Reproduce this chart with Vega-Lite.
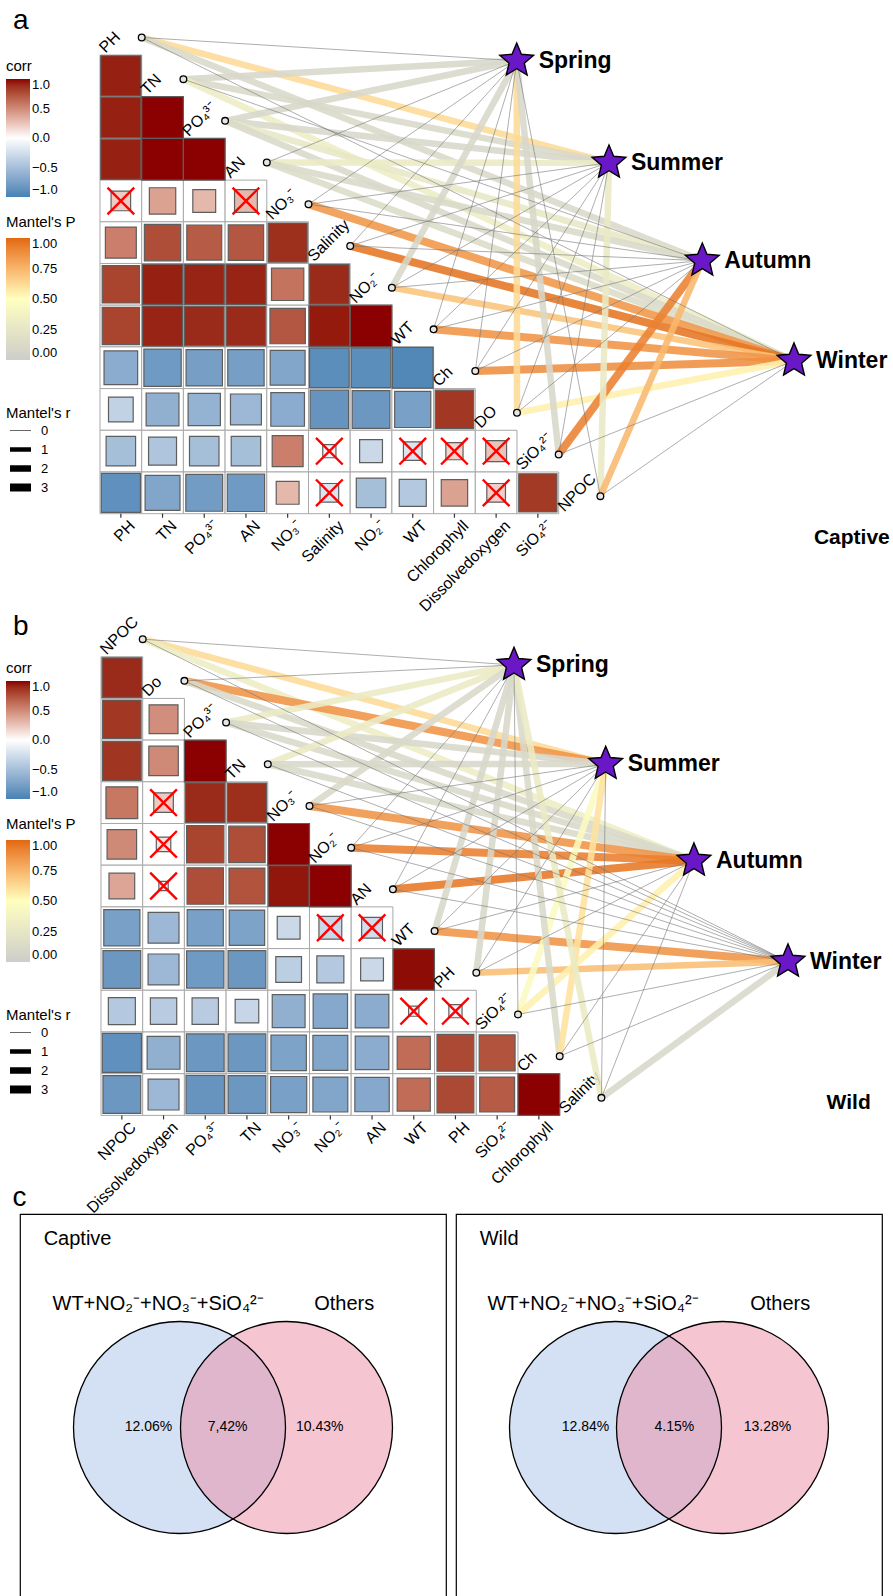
{
"$schema": "https://vega.github.io/schema/vega-lite/v6.json",
"padding": 0,
"spacing": 0,
"bounds": "flush",
"background": "white",
"config": {
  "view": {"stroke": null},
  "text": {"font": "Liberation Sans", "color": "#000000"},
  "legend": {"titleFontSize": 15, "titleFontWeight": "normal", "titleColor": "#000000", "labelFontSize": 13, "labelColor": "#000000", "labelFont": "Liberation Sans", "titleFont": "Liberation Sans", "gradientThickness": 24, "gradientStrokeWidth": 0, "titlePadding": 5, "labelOffset": 6, "padding": 0}
},
"resolve": {"scale": {"fill": "independent", "stroke": "independent", "strokeWidth": "independent", "size": "independent", "x": "independent", "y": "independent"}},
"datasets": {
  "cells_a": [
    {"row":0,"col":0,"r":0.93,"absr":0.93,"sig":"s"},
    {"row":1,"col":0,"r":0.93,"absr":0.93,"sig":"s"},{"row":1,"col":1,"r":1.0,"absr":1.0,"sig":"s"},
    {"row":2,"col":0,"r":0.93,"absr":0.93,"sig":"s"},{"row":2,"col":1,"r":1.0,"absr":1.0,"sig":"s"},{"row":2,"col":2,"r":1.0,"absr":1.0,"sig":"s"},
    {"row":3,"col":0,"r":0.22,"absr":0.22,"sig":"ns"},{"row":3,"col":1,"r":0.4,"absr":0.4,"sig":"s"},{"row":3,"col":2,"r":0.3,"absr":0.3,"sig":"s"},{"row":3,"col":3,"r":0.3,"absr":0.3,"sig":"ns"},
    {"row":4,"col":0,"r":0.55,"absr":0.55,"sig":"s"},{"row":4,"col":1,"r":0.76,"absr":0.76,"sig":"s"},{"row":4,"col":2,"r":0.7,"absr":0.7,"sig":"s"},{"row":4,"col":3,"r":0.72,"absr":0.72,"sig":"s"},{"row":4,"col":4,"r":0.88,"absr":0.88,"sig":"s"},
    {"row":5,"col":0,"r":0.8,"absr":0.8,"sig":"s"},{"row":5,"col":1,"r":0.93,"absr":0.93,"sig":"s"},{"row":5,"col":2,"r":0.92,"absr":0.92,"sig":"s"},{"row":5,"col":3,"r":0.92,"absr":0.92,"sig":"s"},{"row":5,"col":4,"r":0.6,"absr":0.6,"sig":"s"},{"row":5,"col":5,"r":0.9,"absr":0.9,"sig":"s"},
    {"row":6,"col":0,"r":0.8,"absr":0.8,"sig":"s"},{"row":6,"col":1,"r":0.92,"absr":0.92,"sig":"s"},{"row":6,"col":2,"r":0.9,"absr":0.9,"sig":"s"},{"row":6,"col":3,"r":0.9,"absr":0.9,"sig":"s"},{"row":6,"col":4,"r":0.72,"absr":0.72,"sig":"s"},{"row":6,"col":5,"r":0.95,"absr":0.95,"sig":"s"},{"row":6,"col":6,"r":1.0,"absr":1.0,"sig":"s"},
    {"row":7,"col":0,"r":-0.65,"absr":0.65,"sig":"s"},{"row":7,"col":1,"r":-0.8,"absr":0.8,"sig":"s"},{"row":7,"col":2,"r":-0.76,"absr":0.76,"sig":"s"},{"row":7,"col":3,"r":-0.76,"absr":0.76,"sig":"s"},{"row":7,"col":4,"r":-0.7,"absr":0.7,"sig":"s"},{"row":7,"col":5,"r":-0.9,"absr":0.9,"sig":"s"},{"row":7,"col":6,"r":-0.9,"absr":0.9,"sig":"s"},{"row":7,"col":7,"r":-0.95,"absr":0.95,"sig":"s"},
    {"row":8,"col":0,"r":-0.35,"absr":0.35,"sig":"s"},{"row":8,"col":1,"r":-0.62,"absr":0.62,"sig":"s"},{"row":8,"col":2,"r":-0.6,"absr":0.6,"sig":"s"},{"row":8,"col":3,"r":-0.55,"absr":0.55,"sig":"s"},{"row":8,"col":4,"r":-0.65,"absr":0.65,"sig":"s"},{"row":8,"col":5,"r":-0.85,"absr":0.85,"sig":"s"},{"row":8,"col":6,"r":-0.82,"absr":0.82,"sig":"s"},{"row":8,"col":7,"r":-0.75,"absr":0.75,"sig":"s"},{"row":8,"col":8,"r":0.85,"absr":0.85,"sig":"s"},
    {"row":9,"col":0,"r":-0.5,"absr":0.5,"sig":"s"},{"row":9,"col":1,"r":-0.45,"absr":0.45,"sig":"s"},{"row":9,"col":2,"r":-0.5,"absr":0.5,"sig":"s"},{"row":9,"col":3,"r":-0.5,"absr":0.5,"sig":"s"},{"row":9,"col":4,"r":0.55,"absr":0.55,"sig":"s"},{"row":9,"col":5,"r":-0.1,"absr":0.1,"sig":"ns"},{"row":9,"col":6,"r":-0.3,"absr":0.3,"sig":"s"},{"row":9,"col":7,"r":-0.2,"absr":0.2,"sig":"ns"},{"row":9,"col":8,"r":0.17,"absr":0.17,"sig":"ns"},{"row":9,"col":9,"r":0.25,"absr":0.25,"sig":"ns"},
    {"row":10,"col":0,"r":-0.88,"absr":0.88,"sig":"s"},{"row":10,"col":1,"r":-0.7,"absr":0.7,"sig":"s"},{"row":10,"col":2,"r":-0.78,"absr":0.78,"sig":"s"},{"row":10,"col":3,"r":-0.8,"absr":0.8,"sig":"s"},{"row":10,"col":4,"r":0.3,"absr":0.3,"sig":"s"},{"row":10,"col":5,"r":-0.2,"absr":0.2,"sig":"ns"},{"row":10,"col":6,"r":-0.5,"absr":0.5,"sig":"s"},{"row":10,"col":7,"r":-0.42,"absr":0.42,"sig":"s"},{"row":10,"col":8,"r":0.4,"absr":0.4,"sig":"s"},{"row":10,"col":9,"r":0.2,"absr":0.2,"sig":"ns"},{"row":10,"col":10,"r":0.84,"absr":0.84,"sig":"s"}
  ],
  "cells_b": [
    {"row":0,"col":0,"r":0.9,"absr":0.9,"sig":"s"},
    {"row":1,"col":0,"r":0.85,"absr":0.85,"sig":"s"},{"row":1,"col":1,"r":0.48,"absr":0.48,"sig":"s"},
    {"row":2,"col":0,"r":0.86,"absr":0.86,"sig":"s"},{"row":2,"col":1,"r":0.5,"absr":0.5,"sig":"s"},{"row":2,"col":2,"r":1.0,"absr":1.0,"sig":"s"},
    {"row":3,"col":0,"r":0.58,"absr":0.58,"sig":"s"},{"row":3,"col":1,"r":0.22,"absr":0.22,"sig":"ns"},{"row":3,"col":2,"r":0.9,"absr":0.9,"sig":"s"},{"row":3,"col":3,"r":0.88,"absr":0.88,"sig":"s"},
    {"row":4,"col":0,"r":0.5,"absr":0.5,"sig":"s"},{"row":4,"col":1,"r":0.12,"absr":0.12,"sig":"ns"},{"row":4,"col":2,"r":0.8,"absr":0.8,"sig":"s"},{"row":4,"col":3,"r":0.76,"absr":0.76,"sig":"s"},{"row":4,"col":4,"r":1.0,"absr":1.0,"sig":"s"},
    {"row":5,"col":0,"r":0.38,"absr":0.38,"sig":"s"},{"row":5,"col":1,"r":0.05,"absr":0.05,"sig":"ns"},{"row":5,"col":2,"r":0.76,"absr":0.76,"sig":"s"},{"row":5,"col":3,"r":0.74,"absr":0.74,"sig":"s"},{"row":5,"col":4,"r":0.96,"absr":0.96,"sig":"s"},{"row":5,"col":5,"r":1.0,"absr":1.0,"sig":"s"},
    {"row":6,"col":0,"r":-0.75,"absr":0.75,"sig":"s"},{"row":6,"col":1,"r":-0.55,"absr":0.55,"sig":"s"},{"row":6,"col":2,"r":-0.75,"absr":0.75,"sig":"s"},{"row":6,"col":3,"r":-0.72,"absr":0.72,"sig":"s"},{"row":6,"col":4,"r":-0.3,"absr":0.3,"sig":"s"},{"row":6,"col":5,"r":-0.3,"absr":0.3,"sig":"ns"},{"row":6,"col":6,"r":-0.25,"absr":0.25,"sig":"ns"},
    {"row":7,"col":0,"r":-0.82,"absr":0.82,"sig":"s"},{"row":7,"col":1,"r":-0.55,"absr":0.55,"sig":"s"},{"row":7,"col":2,"r":-0.8,"absr":0.8,"sig":"s"},{"row":7,"col":3,"r":-0.82,"absr":0.82,"sig":"s"},{"row":7,"col":4,"r":-0.38,"absr":0.38,"sig":"s"},{"row":7,"col":5,"r":-0.42,"absr":0.42,"sig":"s"},{"row":7,"col":6,"r":-0.3,"absr":0.3,"sig":"s"},{"row":7,"col":7,"r":0.98,"absr":0.98,"sig":"s"},
    {"row":8,"col":0,"r":-0.42,"absr":0.42,"sig":"s"},{"row":8,"col":1,"r":-0.4,"absr":0.4,"sig":"s"},{"row":8,"col":2,"r":-0.4,"absr":0.4,"sig":"s"},{"row":8,"col":3,"r":-0.32,"absr":0.32,"sig":"s"},{"row":8,"col":4,"r":-0.62,"absr":0.62,"sig":"s"},{"row":8,"col":5,"r":-0.68,"absr":0.68,"sig":"s"},{"row":8,"col":6,"r":-0.65,"absr":0.65,"sig":"s"},{"row":8,"col":7,"r":-0.06,"absr":0.06,"sig":"ns"},{"row":8,"col":8,"r":-0.1,"absr":0.1,"sig":"ns"},
    {"row":9,"col":0,"r":-0.88,"absr":0.88,"sig":"s"},{"row":9,"col":1,"r":-0.62,"absr":0.62,"sig":"s"},{"row":9,"col":2,"r":-0.82,"absr":0.82,"sig":"s"},{"row":9,"col":3,"r":-0.82,"absr":0.82,"sig":"s"},{"row":9,"col":4,"r":-0.72,"absr":0.72,"sig":"s"},{"row":9,"col":5,"r":-0.7,"absr":0.7,"sig":"s"},{"row":9,"col":6,"r":-0.65,"absr":0.65,"sig":"s"},{"row":9,"col":7,"r":0.63,"absr":0.63,"sig":"s"},{"row":9,"col":8,"r":0.78,"absr":0.78,"sig":"s"},{"row":9,"col":9,"r":0.74,"absr":0.74,"sig":"s"},
    {"row":10,"col":0,"r":-0.82,"absr":0.82,"sig":"s"},{"row":10,"col":1,"r":-0.55,"absr":0.55,"sig":"s"},{"row":10,"col":2,"r":-0.85,"absr":0.85,"sig":"s"},{"row":10,"col":3,"r":-0.82,"absr":0.82,"sig":"s"},{"row":10,"col":4,"r":-0.75,"absr":0.75,"sig":"s"},{"row":10,"col":5,"r":-0.7,"absr":0.7,"sig":"s"},{"row":10,"col":6,"r":-0.68,"absr":0.68,"sig":"s"},{"row":10,"col":7,"r":0.63,"absr":0.63,"sig":"s"},{"row":10,"col":8,"r":0.78,"absr":0.78,"sig":"s"},{"row":10,"col":9,"r":0.7,"absr":0.7,"sig":"s"},{"row":10,"col":10,"r":1.0,"absr":1.0,"sig":"s"}
  ],
  "vars_a": [
    {"k":0,"diag":"PH","axis":"PH"},{"k":1,"diag":"TN","axis":"TN"},{"k":2,"diag":"PO₄³⁻","axis":"PO₄³⁻"},{"k":3,"diag":"AN","axis":"AN"},
    {"k":4,"diag":"NO₃⁻","axis":"NO₃⁻"},{"k":5,"diag":"Salinity","axis":"Salinity"},{"k":6,"diag":"NO₂⁻","axis":"NO₂⁻"},{"k":7,"diag":"WT","axis":"WT"},
    {"k":8,"diag":"Ch","axis":"Chlorophyll"},{"k":9,"diag":"DO","axis":"Dissolvedoxygen"},{"k":10,"diag":"SiO₄²⁻","axis":"SiO₄²⁻"},{"k":11,"diag":"NPOC","axis":""}
  ],
  "vars_b": [
    {"k":0,"diag":"NPOC","axis":"NPOC"},{"k":1,"diag":"Do","axis":"Dissolvedoxygen"},{"k":2,"diag":"PO₄³⁻","axis":"PO₄³⁻"},{"k":3,"diag":"TN","axis":"TN"},
    {"k":4,"diag":"NO₃⁻","axis":"NO₃⁻"},{"k":5,"diag":"NO₂⁻","axis":"NO₂⁻"},{"k":6,"diag":"AN","axis":"AN"},{"k":7,"diag":"WT","axis":"WT"},
    {"k":8,"diag":"PH","axis":"PH"},{"k":9,"diag":"SiO₄²⁻","axis":"SiO₄²⁻"},{"k":10,"diag":"Ch","axis":"Chlorophyll"},{"k":11,"diag":"Salinity","axis":""}
  ],
  "stars_a": [
    {"season":"Spring","sx":9.493,"sy":-0.363},{"season":"Summer","sx":11.706,"sy":2.083},{"season":"Autumn","sx":13.944,"sy":4.433},{"season":"Winter","sx":16.143,"sy":6.831}
  ],
  "stars_b": [
    {"season":"Spring","sx":9.404,"sy":-0.301},{"season":"Summer","sx":11.603,"sy":2.073},{"season":"Autumn","sx":13.72,"sy":4.392},{"season":"Winter","sx":15.975,"sy":6.814}
  ],
  "links_a": [
    {"var":"PH","k":0,"season":"Spring","r":0,"p":0.05},{"var":"PH","k":0,"season":"Summer","r":2,"p":0.62},{"var":"PH","k":0,"season":"Autumn","r":2,"p":0.12},{"var":"PH","k":0,"season":"Winter","r":0,"p":0.1},
    {"var":"TN","k":1,"season":"Spring","r":2,"p":0.1},{"var":"TN","k":1,"season":"Summer","r":2,"p":0.12},{"var":"TN","k":1,"season":"Autumn","r":0,"p":0.2},{"var":"TN","k":1,"season":"Winter","r":2,"p":0.32},
    {"var":"PO4","k":2,"season":"Spring","r":2,"p":0.1},{"var":"PO4","k":2,"season":"Summer","r":2,"p":0.1},{"var":"PO4","k":2,"season":"Autumn","r":2,"p":0.26},{"var":"PO4","k":2,"season":"Winter","r":2,"p":0.12},
    {"var":"AN","k":3,"season":"Spring","r":0,"p":0.2},{"var":"AN","k":3,"season":"Summer","r":2,"p":0.3},{"var":"AN","k":3,"season":"Autumn","r":2,"p":0.12},{"var":"AN","k":3,"season":"Winter","r":2,"p":0.15},
    {"var":"NO3","k":4,"season":"Spring","r":0,"p":0.3},{"var":"NO3","k":4,"season":"Summer","r":0,"p":0.3},{"var":"NO3","k":4,"season":"Autumn","r":0,"p":0.2},{"var":"NO3","k":4,"season":"Winter","r":3,"p":0.85},
    {"var":"Salinity","k":5,"season":"Spring","r":0,"p":0.2},{"var":"Salinity","k":5,"season":"Summer","r":0,"p":0.2},{"var":"Salinity","k":5,"season":"Autumn","r":0,"p":0.2},{"var":"Salinity","k":5,"season":"Winter","r":3,"p":0.96},
    {"var":"NO2","k":6,"season":"Spring","r":2,"p":0.1},{"var":"NO2","k":6,"season":"Summer","r":0,"p":0.2},{"var":"NO2","k":6,"season":"Autumn","r":0,"p":0.2},{"var":"NO2","k":6,"season":"Winter","r":2,"p":0.7},
    {"var":"WT","k":7,"season":"Spring","r":0,"p":0.2},{"var":"WT","k":7,"season":"Summer","r":0,"p":0.2},{"var":"WT","k":7,"season":"Autumn","r":0,"p":0.2},{"var":"WT","k":7,"season":"Winter","r":3,"p":0.86},
    {"var":"Ch","k":8,"season":"Spring","r":0,"p":0.2},{"var":"Ch","k":8,"season":"Summer","r":0,"p":0.2},{"var":"Ch","k":8,"season":"Autumn","r":0,"p":0.2},{"var":"Ch","k":8,"season":"Winter","r":3,"p":0.88},
    {"var":"DO","k":9,"season":"Spring","r":2,"p":0.62},{"var":"DO","k":9,"season":"Summer","r":0,"p":0.2},{"var":"DO","k":9,"season":"Autumn","r":0,"p":0.2},{"var":"DO","k":9,"season":"Winter","r":2,"p":0.55},
    {"var":"SiO4","k":10,"season":"Spring","r":2,"p":0.1},{"var":"SiO4","k":10,"season":"Summer","r":0,"p":0.2},{"var":"SiO4","k":10,"season":"Autumn","r":3,"p":0.92},{"var":"SiO4","k":10,"season":"Winter","r":0,"p":0.2},
    {"var":"NPOC","k":11,"season":"Spring","r":0,"p":0.2},{"var":"NPOC","k":11,"season":"Summer","r":2,"p":0.28},{"var":"NPOC","k":11,"season":"Autumn","r":2,"p":0.74},{"var":"NPOC","k":11,"season":"Winter","r":0,"p":0.2}
  ],
  "links_b": [
    {"var":"NPOC","k":0,"season":"Spring","r":0,"p":0.2},{"var":"NPOC","k":0,"season":"Summer","r":2,"p":0.62},{"var":"NPOC","k":0,"season":"Autumn","r":2,"p":0.32},{"var":"NPOC","k":0,"season":"Winter","r":0,"p":0.2},
    {"var":"Do","k":1,"season":"Spring","r":0,"p":0.2},{"var":"Do","k":1,"season":"Summer","r":3,"p":0.86},{"var":"Do","k":1,"season":"Autumn","r":2,"p":0.12},{"var":"Do","k":1,"season":"Winter","r":0,"p":0.2},
    {"var":"PO4","k":2,"season":"Spring","r":2,"p":0.3},{"var":"PO4","k":2,"season":"Summer","r":2,"p":0.1},{"var":"PO4","k":2,"season":"Autumn","r":2,"p":0.12},{"var":"PO4","k":2,"season":"Winter","r":0,"p":0.2},
    {"var":"TN","k":3,"season":"Spring","r":2,"p":0.3},{"var":"TN","k":3,"season":"Summer","r":2,"p":0.1},{"var":"TN","k":3,"season":"Autumn","r":2,"p":0.12},{"var":"TN","k":3,"season":"Winter","r":0,"p":0.2},
    {"var":"NO3","k":4,"season":"Spring","r":2,"p":0.12},{"var":"NO3","k":4,"season":"Summer","r":0,"p":0.2},{"var":"NO3","k":4,"season":"Autumn","r":3,"p":0.86},{"var":"NO3","k":4,"season":"Winter","r":0,"p":0.2},
    {"var":"NO2","k":5,"season":"Spring","r":0,"p":0.2},{"var":"NO2","k":5,"season":"Summer","r":0,"p":0.2},{"var":"NO2","k":5,"season":"Autumn","r":3,"p":0.93},{"var":"NO2","k":5,"season":"Winter","r":0,"p":0.2},
    {"var":"AN","k":6,"season":"Spring","r":0,"p":0.2},{"var":"AN","k":6,"season":"Summer","r":0,"p":0.2},{"var":"AN","k":6,"season":"Autumn","r":3,"p":0.95},{"var":"AN","k":6,"season":"Winter","r":0,"p":0.2},
    {"var":"WT","k":7,"season":"Spring","r":2,"p":0.1},{"var":"WT","k":7,"season":"Summer","r":0,"p":0.2},{"var":"WT","k":7,"season":"Autumn","r":0,"p":0.2},{"var":"WT","k":7,"season":"Winter","r":3,"p":0.86},
    {"var":"PH","k":8,"season":"Spring","r":2,"p":0.1},{"var":"PH","k":8,"season":"Summer","r":0,"p":0.2},{"var":"PH","k":8,"season":"Autumn","r":0,"p":0.2},{"var":"PH","k":8,"season":"Winter","r":2,"p":0.72},
    {"var":"SiO4","k":9,"season":"Spring","r":0,"p":0.2},{"var":"SiO4","k":9,"season":"Summer","r":2,"p":0.45},{"var":"SiO4","k":9,"season":"Autumn","r":2,"p":0.55},{"var":"SiO4","k":9,"season":"Winter","r":0,"p":0.2},
    {"var":"Ch","k":10,"season":"Spring","r":2,"p":0.12},{"var":"Ch","k":10,"season":"Summer","r":2,"p":0.6},{"var":"Ch","k":10,"season":"Autumn","r":0,"p":0.2},{"var":"Ch","k":10,"season":"Winter","r":0,"p":0.2},
    {"var":"Salinity","k":11,"season":"Spring","r":2,"p":0.3},{"var":"Salinity","k":11,"season":"Summer","r":0,"p":0.2},{"var":"Salinity","k":11,"season":"Autumn","r":0,"p":0.2},{"var":"Salinity","k":11,"season":"Winter","r":2,"p":0.1}
  ],
  "venn_sets": [
    {"group":"Captive","set":"WT+NO₂⁻+NO₃⁻+SiO₄²⁻","pos":0,"lpos":-0.2},
    {"group":"Captive","set":"Others","pos":1,"lpos":1.54},
    {"group":"Wild","set":"WT+NO₂⁻+NO₃⁻+SiO₄²⁻","pos":0,"lpos":-0.21},
    {"group":"Wild","set":"Others","pos":1,"lpos":1.54}
  ],
  "venn_regions": [
    {"group":"Captive","region":"A only","pos":-0.29,"pct":"12.06%"},
    {"group":"Captive","region":"A and B","pos":0.45,"pct":"7,42%"},
    {"group":"Captive","region":"B only","pos":1.31,"pct":"10.43%"},
    {"group":"Wild","region":"A only","pos":-0.28,"pct":"12.84%"},
    {"group":"Wild","region":"A and B","pos":0.55,"pct":"4.15%"},
    {"group":"Wild","region":"B only","pos":1.42,"pct":"13.28%"}
  ],
  "venn_groups": [{"group":"Captive"},{"group":"Wild"}]
},
"vconcat": [
{
  "width": 893, "height": 592,
  "layer": [
    {"data": {"name": "cells_a"},
     "mark": {"type": "point", "shape": "square", "size": 1739, "filled": true, "fill": "#FFFFFF", "stroke": "#A8A8A8", "strokeWidth": 1, "opacity": 1},
     "encoding": {"x": {"field": "col", "type": "quantitative", "scale": {"domain": [-2.898, 18.517], "nice": false, "zero": false}, "axis": null},
                  "y": {"field": "row", "type": "quantitative", "scale": {"domain": [-1.819, 12.378], "nice": false, "zero": false, "reverse": true}, "axis": null}}},
    {"data": {"name": "cells_a"},
     "mark": {"type": "point", "shape": "square", "filled": true, "stroke": "#5E5E5E", "strokeWidth": 1.2, "opacity": 1},
     "encoding": {"x": {"field": "col", "type": "quantitative", "scale": {"domain": [-2.898, 18.517], "nice": false, "zero": false}, "axis": null},
                  "y": {"field": "row", "type": "quantitative", "scale": {"domain": [-1.819, 12.378], "nice": false, "zero": false, "reverse": true}, "axis": null},
                  "fill": {"field": "r", "type": "quantitative", "scale": {"domain": [-1, 0, 1], "range": ["#4682B4", "#FFFFFF", "#8B0000"], "interpolate": "lab"},
                           "legend": {"title": "corr", "orient": "none", "legendX": 6, "legendY": 59, "direction": "vertical", "gradientLength": 118, "values": [-1, -0.5, 0, 0.5, 1], "format": ".1f"}},
                  "size": {"field": "absr", "type": "quantitative", "scale": {"domain": [0, 1], "range": [0, 1739]}, "legend": null}}},
    {"data": {"name": "cells_a"}, "transform": [{"filter": {"field": "sig", "equal": "ns"}}],
     "mark": {"type": "point", "shape": "M-1,-1L1,1M1,-1L-1,1", "size": 713, "filled": false, "stroke": "#FF0000", "strokeWidth": 2.4, "opacity": 1},
     "encoding": {"x": {"field": "col", "type": "quantitative", "scale": {"domain": [-2.898, 18.517], "nice": false, "zero": false}, "axis": null},
                  "y": {"field": "row", "type": "quantitative", "scale": {"domain": [-1.819, 12.378], "nice": false, "zero": false, "reverse": true}, "axis": null}}},
    {"data": {"name": "vars_a"}, "transform": [{"filter": "datum.k < 11"}],
     "mark": {"type": "point", "shape": "M0,0L0,1", "size": 64, "filled": false, "stroke": "#333333", "strokeWidth": 1.2, "opacity": 1},
     "encoding": {"x": {"field": "k", "type": "quantitative", "scale": {"domain": [-2.898, 18.517], "nice": false, "zero": false}, "axis": null},
                  "y": {"datum": 10.5, "type": "quantitative", "scale": {"domain": [-1.819, 12.378], "nice": false, "zero": false, "reverse": true}, "axis": null}}},
    {"data": {"name": "vars_a"}, "transform": [{"filter": "datum.k < 11"}],
     "mark": {"type": "text", "align": "right", "baseline": "top", "angle": -45, "fontSize": 16, "xOffset": 6, "yOffset": 4},
     "encoding": {"x": {"field": "k", "type": "quantitative", "scale": {"domain": [-2.898, 18.517], "nice": false, "zero": false}, "axis": null},
                  "y": {"datum": 10.5, "type": "quantitative", "scale": {"domain": [-1.819, 12.378], "nice": false, "zero": false, "reverse": true}, "axis": null},
                  "text": {"field": "axis"}}},
    {"data": {"name": "vars_a"},
     "mark": {"type": "text", "align": "left", "baseline": "alphabetic", "angle": -45, "fontSize": 16, "xOffset": -15.4, "yOffset": -22.1},
     "encoding": {"x": {"field": "k", "type": "quantitative", "scale": {"domain": [-2.898, 18.517], "nice": false, "zero": false}, "axis": null},
                  "y": {"field": "k", "type": "quantitative", "scale": {"domain": [-1.819, 12.378], "nice": false, "zero": false, "reverse": true}, "axis": null},
                  "text": {"field": "diag"}}},
    {"data": {"name": "links_a"},
     "transform": [{"filter": "datum.r > 0"}, {"lookup": "season", "from": {"data": {"name": "stars_a"}, "key": "season", "fields": ["sx", "sy"]}}],
     "mark": {"type": "rule", "xOffset": 20.85, "yOffset": -38.4, "strokeOpacity": 0.88, "strokeCap": "butt"},
     "encoding": {"x": {"field": "k", "type": "quantitative", "scale": {"domain": [-2.898, 18.517], "nice": false, "zero": false}, "axis": null},
                  "y": {"field": "k", "type": "quantitative", "scale": {"domain": [-1.819, 12.378], "nice": false, "zero": false, "reverse": true}, "axis": null},
                  "x2": {"field": "sx"}, "y2": {"field": "sy"},
                  "stroke": {"field": "p", "type": "quantitative", "scale": {"domain": [0, 0.5, 1], "range": ["#CDCDCB", "#FFFFC0", "#E2680F"], "interpolate": "lab"},
                             "legend": {"title": "Mantel's P", "orient": "none", "legendX": 6, "legendY": 215, "titlePadding": 8, "direction": "vertical", "gradientLength": 122, "values": [0, 0.25, 0.5, 0.75, 1], "format": ".2f"}},
                  "strokeWidth": {"field": "r", "type": "quantitative", "scale": {"domain": [0, 1, 2, 3], "range": [0.6, 4.5, 6.5, 8]},
                                  "legend": {"title": "Mantel's r", "orient": "none", "legendX": 6, "legendY": 406, "titlePadding": 0, "values": [0, 1, 2, 3], "format": "d", "symbolType": "stroke", "symbolSize": 441, "symbolStrokeColor": "#000000", "rowPadding": 0, "clipHeight": 19}}}},
    {"data": {"name": "links_a"},
     "transform": [{"filter": "datum.r == 0"}, {"lookup": "season", "from": {"data": {"name": "stars_a"}, "key": "season", "fields": ["sx", "sy"]}}],
     "mark": {"type": "rule", "xOffset": 20.85, "yOffset": -38.4, "stroke": "#777777", "strokeWidth": 0.6},
     "encoding": {"x": {"field": "k", "type": "quantitative", "scale": {"domain": [-2.898, 18.517], "nice": false, "zero": false}, "axis": null},
                  "y": {"field": "k", "type": "quantitative", "scale": {"domain": [-1.819, 12.378], "nice": false, "zero": false, "reverse": true}, "axis": null},
                  "x2": {"field": "sx"}, "y2": {"field": "sy"}}},
    {"data": {"name": "vars_a"},
     "mark": {"type": "point", "shape": "circle", "size": 45, "filled": true, "fill": "#E6E6E6", "stroke": "#000000", "strokeWidth": 1.3, "opacity": 1, "xOffset": 20.85, "yOffset": -38.4},
     "encoding": {"x": {"field": "k", "type": "quantitative", "scale": {"domain": [-2.898, 18.517], "nice": false, "zero": false}, "axis": null},
                  "y": {"field": "k", "type": "quantitative", "scale": {"domain": [-1.819, 12.378], "nice": false, "zero": false, "reverse": true}, "axis": null}}},
    {"data": {"name": "stars_a"},
     "mark": {"type": "point", "shape": "M0,-1L0.264,-0.364L0.951,-0.309L0.428,0.139L0.588,0.809L0,0.45L-0.588,0.809L-0.428,0.139L-0.951,-0.309L-0.264,-0.364Z", "size": 1260, "filled": true, "fill": "#6A17C8", "stroke": "#000000", "strokeWidth": 1.4, "opacity": 1},
     "encoding": {"x": {"field": "sx", "type": "quantitative", "scale": {"domain": [-2.898, 18.517], "nice": false, "zero": false}, "axis": null},
                  "y": {"field": "sy", "type": "quantitative", "scale": {"domain": [-1.819, 12.378], "nice": false, "zero": false, "reverse": true}, "axis": null}}},
    {"data": {"name": "stars_a"},
     "mark": {"type": "text", "align": "left", "baseline": "middle", "fontSize": 23, "fontWeight": "bold", "xOffset": 22},
     "encoding": {"x": {"field": "sx", "type": "quantitative", "scale": {"domain": [-2.898, 18.517], "nice": false, "zero": false}, "axis": null},
                  "y": {"field": "sy", "type": "quantitative", "scale": {"domain": [-1.819, 12.378], "nice": false, "zero": false, "reverse": true}, "axis": null},
                  "text": {"field": "season"}}},
    {"data": {"values": [{"label": "a"}]},
     "mark": {"type": "text", "align": "left", "baseline": "alphabetic", "fontSize": 28},
     "encoding": {"x": {"datum": -2.586, "type": "quantitative", "scale": {"domain": [-2.898, 18.517], "nice": false, "zero": false}, "axis": null},
                  "y": {"datum": -1.124, "type": "quantitative", "scale": {"domain": [-1.819, 12.378], "nice": false, "zero": false, "reverse": true}, "axis": null},
                  "text": {"field": "label"}}},
    {"data": {"values": [{"label": "Captive"}]},
     "mark": {"type": "text", "align": "left", "baseline": "alphabetic", "fontSize": 21, "fontWeight": "bold"},
     "encoding": {"x": {"datum": 16.62, "type": "quantitative", "scale": {"domain": [-2.898, 18.517], "nice": false, "zero": false}, "axis": null},
                  "y": {"datum": 11.23, "type": "quantitative", "scale": {"domain": [-1.819, 12.378], "nice": false, "zero": false, "reverse": true}, "axis": null},
                  "text": {"field": "label"}}}
  ]
},
{
  "width": 893, "height": 622,
  "layer": [
    {"data": {"name": "cells_b"},
     "mark": {"type": "point", "shape": "square", "size": 1739, "filled": true, "fill": "#FFFFFF", "stroke": "#A8A8A8", "strokeWidth": 1, "opacity": 1},
     "encoding": {"x": {"field": "col", "type": "quantitative", "scale": {"domain": [-2.922, 18.493], "nice": false, "zero": false}, "axis": null},
                  "y": {"field": "row", "type": "quantitative", "scale": {"domain": [-2.052, 12.865], "nice": false, "zero": false, "reverse": true}, "axis": null}}},
    {"data": {"name": "cells_b"},
     "mark": {"type": "point", "shape": "square", "filled": true, "stroke": "#5E5E5E", "strokeWidth": 1.2, "opacity": 1},
     "encoding": {"x": {"field": "col", "type": "quantitative", "scale": {"domain": [-2.922, 18.493], "nice": false, "zero": false}, "axis": null},
                  "y": {"field": "row", "type": "quantitative", "scale": {"domain": [-2.052, 12.865], "nice": false, "zero": false, "reverse": true}, "axis": null},
                  "fill": {"field": "r", "type": "quantitative", "scale": {"domain": [-1, 0, 1], "range": ["#4682B4", "#FFFFFF", "#8B0000"], "interpolate": "lab"},
                           "legend": {"title": "corr", "orient": "none", "legendX": 6, "legendY": 69, "direction": "vertical", "gradientLength": 118, "values": [-1, -0.5, 0, 0.5, 1], "format": ".1f"}},
                  "size": {"field": "absr", "type": "quantitative", "scale": {"domain": [0, 1], "range": [0, 1739]}, "legend": null}}},
    {"data": {"name": "cells_b"}, "transform": [{"filter": {"field": "sig", "equal": "ns"}}],
     "mark": {"type": "point", "shape": "M-1,-1L1,1M1,-1L-1,1", "size": 713, "filled": false, "stroke": "#FF0000", "strokeWidth": 2.4, "opacity": 1},
     "encoding": {"x": {"field": "col", "type": "quantitative", "scale": {"domain": [-2.922, 18.493], "nice": false, "zero": false}, "axis": null},
                  "y": {"field": "row", "type": "quantitative", "scale": {"domain": [-2.052, 12.865], "nice": false, "zero": false, "reverse": true}, "axis": null}}},
    {"data": {"name": "vars_b"}, "transform": [{"filter": "datum.k < 11"}],
     "mark": {"type": "point", "shape": "M0,0L0,1", "size": 64, "filled": false, "stroke": "#333333", "strokeWidth": 1.2, "opacity": 1},
     "encoding": {"x": {"field": "k", "type": "quantitative", "scale": {"domain": [-2.922, 18.493], "nice": false, "zero": false}, "axis": null},
                  "y": {"datum": 10.5, "type": "quantitative", "scale": {"domain": [-2.052, 12.865], "nice": false, "zero": false, "reverse": true}, "axis": null}}},
    {"data": {"name": "vars_b"}, "transform": [{"filter": "datum.k < 11"}],
     "mark": {"type": "text", "align": "right", "baseline": "top", "angle": -45, "fontSize": 16, "xOffset": 6, "yOffset": 4},
     "encoding": {"x": {"field": "k", "type": "quantitative", "scale": {"domain": [-2.922, 18.493], "nice": false, "zero": false}, "axis": null},
                  "y": {"datum": 10.5, "type": "quantitative", "scale": {"domain": [-2.052, 12.865], "nice": false, "zero": false, "reverse": true}, "axis": null},
                  "text": {"field": "axis"}}},
    {"data": {"name": "vars_b"},
     "mark": {"type": "text", "align": "left", "baseline": "alphabetic", "angle": -45, "fontSize": 16, "xOffset": -15.4, "yOffset": -22.1},
     "encoding": {"x": {"field": "k", "type": "quantitative", "scale": {"domain": [-2.922, 18.493], "nice": false, "zero": false}, "axis": null},
                  "y": {"field": "k", "type": "quantitative", "scale": {"domain": [-2.052, 12.865], "nice": false, "zero": false, "reverse": true}, "axis": null},
                  "text": {"field": "diag"}}},
    {"data": {"name": "links_b"},
     "transform": [{"filter": "datum.r > 0"}, {"lookup": "season", "from": {"data": {"name": "stars_b"}, "key": "season", "fields": ["sx", "sy"]}}],
     "mark": {"type": "rule", "xOffset": 20.85, "yOffset": -38.4, "strokeOpacity": 0.88, "strokeCap": "butt"},
     "encoding": {"x": {"field": "k", "type": "quantitative", "scale": {"domain": [-2.922, 18.493], "nice": false, "zero": false}, "axis": null},
                  "y": {"field": "k", "type": "quantitative", "scale": {"domain": [-2.052, 12.865], "nice": false, "zero": false, "reverse": true}, "axis": null},
                  "x2": {"field": "sx"}, "y2": {"field": "sy"},
                  "stroke": {"field": "p", "type": "quantitative", "scale": {"domain": [0, 0.5, 1], "range": ["#CDCDCB", "#FFFFC0", "#E2680F"], "interpolate": "lab"},
                             "legend": {"title": "Mantel's P", "orient": "none", "legendX": 6, "legendY": 225, "titlePadding": 8, "direction": "vertical", "gradientLength": 122, "values": [0, 0.25, 0.5, 0.75, 1], "format": ".2f"}},
                  "strokeWidth": {"field": "r", "type": "quantitative", "scale": {"domain": [0, 1, 2, 3], "range": [0.6, 4.5, 6.5, 8]},
                                  "legend": {"title": "Mantel's r", "orient": "none", "legendX": 6, "legendY": 416, "titlePadding": 0, "values": [0, 1, 2, 3], "format": "d", "symbolType": "stroke", "symbolSize": 441, "symbolStrokeColor": "#000000", "rowPadding": 0, "clipHeight": 19}}}},
    {"data": {"name": "links_b"},
     "transform": [{"filter": "datum.r == 0"}, {"lookup": "season", "from": {"data": {"name": "stars_b"}, "key": "season", "fields": ["sx", "sy"]}}],
     "mark": {"type": "rule", "xOffset": 20.85, "yOffset": -38.4, "stroke": "#777777", "strokeWidth": 0.6},
     "encoding": {"x": {"field": "k", "type": "quantitative", "scale": {"domain": [-2.922, 18.493], "nice": false, "zero": false}, "axis": null},
                  "y": {"field": "k", "type": "quantitative", "scale": {"domain": [-2.052, 12.865], "nice": false, "zero": false, "reverse": true}, "axis": null},
                  "x2": {"field": "sx"}, "y2": {"field": "sy"}}},
    {"data": {"name": "vars_b"},
     "mark": {"type": "point", "shape": "circle", "size": 45, "filled": true, "fill": "#E6E6E6", "stroke": "#000000", "strokeWidth": 1.3, "opacity": 1, "xOffset": 20.85, "yOffset": -38.4},
     "encoding": {"x": {"field": "k", "type": "quantitative", "scale": {"domain": [-2.922, 18.493], "nice": false, "zero": false}, "axis": null},
                  "y": {"field": "k", "type": "quantitative", "scale": {"domain": [-2.052, 12.865], "nice": false, "zero": false, "reverse": true}, "axis": null}}},
    {"data": {"name": "stars_b"},
     "mark": {"type": "point", "shape": "M0,-1L0.264,-0.364L0.951,-0.309L0.428,0.139L0.588,0.809L0,0.45L-0.588,0.809L-0.428,0.139L-0.951,-0.309L-0.264,-0.364Z", "size": 1260, "filled": true, "fill": "#6A17C8", "stroke": "#000000", "strokeWidth": 1.4, "opacity": 1},
     "encoding": {"x": {"field": "sx", "type": "quantitative", "scale": {"domain": [-2.922, 18.493], "nice": false, "zero": false}, "axis": null},
                  "y": {"field": "sy", "type": "quantitative", "scale": {"domain": [-2.052, 12.865], "nice": false, "zero": false, "reverse": true}, "axis": null}}},
    {"data": {"name": "stars_b"},
     "mark": {"type": "text", "align": "left", "baseline": "middle", "fontSize": 23, "fontWeight": "bold", "xOffset": 22},
     "encoding": {"x": {"field": "sx", "type": "quantitative", "scale": {"domain": [-2.922, 18.493], "nice": false, "zero": false}, "axis": null},
                  "y": {"field": "sy", "type": "quantitative", "scale": {"domain": [-2.052, 12.865], "nice": false, "zero": false, "reverse": true}, "axis": null},
                  "text": {"field": "season"}}},
    {"data": {"values": [{"label": "b", "px": -2.61, "py": -1.02}, {"label": "c", "px": -2.622, "py": 12.67}]},
     "mark": {"type": "text", "align": "left", "baseline": "alphabetic", "fontSize": 28},
     "encoding": {"x": {"field": "px", "type": "quantitative", "scale": {"domain": [-2.922, 18.493], "nice": false, "zero": false}, "axis": null},
                  "y": {"field": "py", "type": "quantitative", "scale": {"domain": [-2.052, 12.865], "nice": false, "zero": false, "reverse": true}, "axis": null},
                  "text": {"field": "label"}}},
    {"data": {"values": [{"label": "Wild"}]},
     "mark": {"type": "text", "align": "left", "baseline": "alphabetic", "fontSize": 21, "fontWeight": "bold"},
     "encoding": {"x": {"datum": 16.9, "type": "quantitative", "scale": {"domain": [-2.922, 18.493], "nice": false, "zero": false}, "axis": null},
                  "y": {"datum": 10.35, "type": "quantitative", "scale": {"domain": [-2.052, 12.865], "nice": false, "zero": false, "reverse": true}, "axis": null},
                  "text": {"field": "label"}}}
  ]
},
{
  "hconcat": [
    {"width": 10, "height": 400, "data": {"values": [{"t": ""}]}, "mark": {"type": "text"}, "encoding": {"text": {"field": "t"}}},
    {"width": 426, "height": 400, "view": {"stroke": "#000000", "strokeWidth": 1.2},
     "layer": [
       {"data": {"name": "venn_sets"}, "transform": [{"filter": {"field": "group", "equal": "Captive"}}],
        "mark": {"type": "point", "shape": "circle", "size": 44944, "filled": true, "fillOpacity": 0.5, "strokeWidth": 0, "opacity": 1},
        "encoding": {"x": {"field": "pos", "type": "quantitative", "scale": {"domain": [-1.491, 2.491], "nice": false, "zero": false}, "axis": null},
                     "y": {"datum": 0, "type": "quantitative", "scale": {"domain": [-1.743, 1.995], "nice": false, "zero": false}, "axis": null},
                     "fill": {"field": "set", "type": "nominal", "scale": {"domain": ["WT+NO₂⁻+NO₃⁻+SiO₄²⁻", "Others"], "range": ["#A9C4EA", "#EC8CA6"]}, "legend": null}}},
       {"data": {"name": "venn_sets"}, "transform": [{"filter": {"field": "group", "equal": "Captive"}}],
        "mark": {"type": "point", "shape": "circle", "size": 44944, "filled": false, "stroke": "#000000", "strokeWidth": 1.3, "opacity": 1},
        "encoding": {"x": {"field": "pos", "type": "quantitative", "scale": {"domain": [-1.491, 2.491], "nice": false, "zero": false}, "axis": null},
                     "y": {"datum": 0, "type": "quantitative", "scale": {"domain": [-1.743, 1.995], "nice": false, "zero": false}, "axis": null}}},
       {"data": {"name": "venn_sets"}, "transform": [{"filter": {"field": "group", "equal": "Captive"}}],
        "mark": {"type": "text", "align": "center", "baseline": "alphabetic", "fontSize": 20},
        "encoding": {"x": {"field": "lpos", "type": "quantitative", "scale": {"domain": [-1.491, 2.491], "nice": false, "zero": false}, "axis": null},
                     "y": {"datum": 1.098, "type": "quantitative", "scale": {"domain": [-1.743, 1.995], "nice": false, "zero": false}, "axis": null},
                     "text": {"field": "set"}}},
       {"data": {"name": "venn_regions"}, "transform": [{"filter": {"field": "group", "equal": "Captive"}}],
        "mark": {"type": "text", "align": "center", "baseline": "middle", "fontSize": 14},
        "encoding": {"x": {"field": "pos", "type": "quantitative", "scale": {"domain": [-1.491, 2.491], "nice": false, "zero": false}, "axis": null},
                     "y": {"datum": 0, "type": "quantitative", "scale": {"domain": [-1.743, 1.995], "nice": false, "zero": false}, "axis": null},
                     "text": {"field": "pct"}}},
       {"data": {"name": "venn_groups"}, "transform": [{"filter": {"field": "group", "equal": "Captive"}}],
        "mark": {"type": "text", "align": "left", "baseline": "alphabetic", "fontSize": 20},
        "encoding": {"x": {"datum": -1.27, "type": "quantitative", "scale": {"domain": [-1.491, 2.491], "nice": false, "zero": false}, "axis": null},
                     "y": {"datum": 1.706, "type": "quantitative", "scale": {"domain": [-1.743, 1.995], "nice": false, "zero": false}, "axis": null},
                     "text": {"field": "group"}}}
     ]},
    {"width": 426, "height": 400, "view": {"stroke": "#000000", "strokeWidth": 1.2},
     "layer": [
       {"data": {"name": "venn_sets"}, "transform": [{"filter": {"field": "group", "equal": "Wild"}}],
        "mark": {"type": "point", "shape": "circle", "size": 44944, "filled": true, "fillOpacity": 0.5, "strokeWidth": 0, "opacity": 1},
        "encoding": {"x": {"field": "pos", "type": "quantitative", "scale": {"domain": [-1.491, 2.491], "nice": false, "zero": false}, "axis": null},
                     "y": {"datum": 0, "type": "quantitative", "scale": {"domain": [-1.743, 1.995], "nice": false, "zero": false}, "axis": null},
                     "fill": {"field": "set", "type": "nominal", "scale": {"domain": ["WT+NO₂⁻+NO₃⁻+SiO₄²⁻", "Others"], "range": ["#A9C4EA", "#EC8CA6"]}, "legend": null}}},
       {"data": {"name": "venn_sets"}, "transform": [{"filter": {"field": "group", "equal": "Wild"}}],
        "mark": {"type": "point", "shape": "circle", "size": 44944, "filled": false, "stroke": "#000000", "strokeWidth": 1.3, "opacity": 1},
        "encoding": {"x": {"field": "pos", "type": "quantitative", "scale": {"domain": [-1.491, 2.491], "nice": false, "zero": false}, "axis": null},
                     "y": {"datum": 0, "type": "quantitative", "scale": {"domain": [-1.743, 1.995], "nice": false, "zero": false}, "axis": null}}},
       {"data": {"name": "venn_sets"}, "transform": [{"filter": {"field": "group", "equal": "Wild"}}],
        "mark": {"type": "text", "align": "center", "baseline": "alphabetic", "fontSize": 20},
        "encoding": {"x": {"field": "lpos", "type": "quantitative", "scale": {"domain": [-1.491, 2.491], "nice": false, "zero": false}, "axis": null},
                     "y": {"datum": 1.098, "type": "quantitative", "scale": {"domain": [-1.743, 1.995], "nice": false, "zero": false}, "axis": null},
                     "text": {"field": "set"}}},
       {"data": {"name": "venn_regions"}, "transform": [{"filter": {"field": "group", "equal": "Wild"}}],
        "mark": {"type": "text", "align": "center", "baseline": "middle", "fontSize": 14},
        "encoding": {"x": {"field": "pos", "type": "quantitative", "scale": {"domain": [-1.491, 2.491], "nice": false, "zero": false}, "axis": null},
                     "y": {"datum": 0, "type": "quantitative", "scale": {"domain": [-1.743, 1.995], "nice": false, "zero": false}, "axis": null},
                     "text": {"field": "pct"}}},
       {"data": {"name": "venn_groups"}, "transform": [{"filter": {"field": "group", "equal": "Wild"}}],
        "mark": {"type": "text", "align": "left", "baseline": "alphabetic", "fontSize": 20},
        "encoding": {"x": {"datum": -1.27, "type": "quantitative", "scale": {"domain": [-1.491, 2.491], "nice": false, "zero": false}, "axis": null},
                     "y": {"datum": 1.706, "type": "quantitative", "scale": {"domain": [-1.743, 1.995], "nice": false, "zero": false}, "axis": null},
                     "text": {"field": "group"}}}
     ]}
  ],
  "spacing": 10,
  "bounds": "flush"
}
]
}
